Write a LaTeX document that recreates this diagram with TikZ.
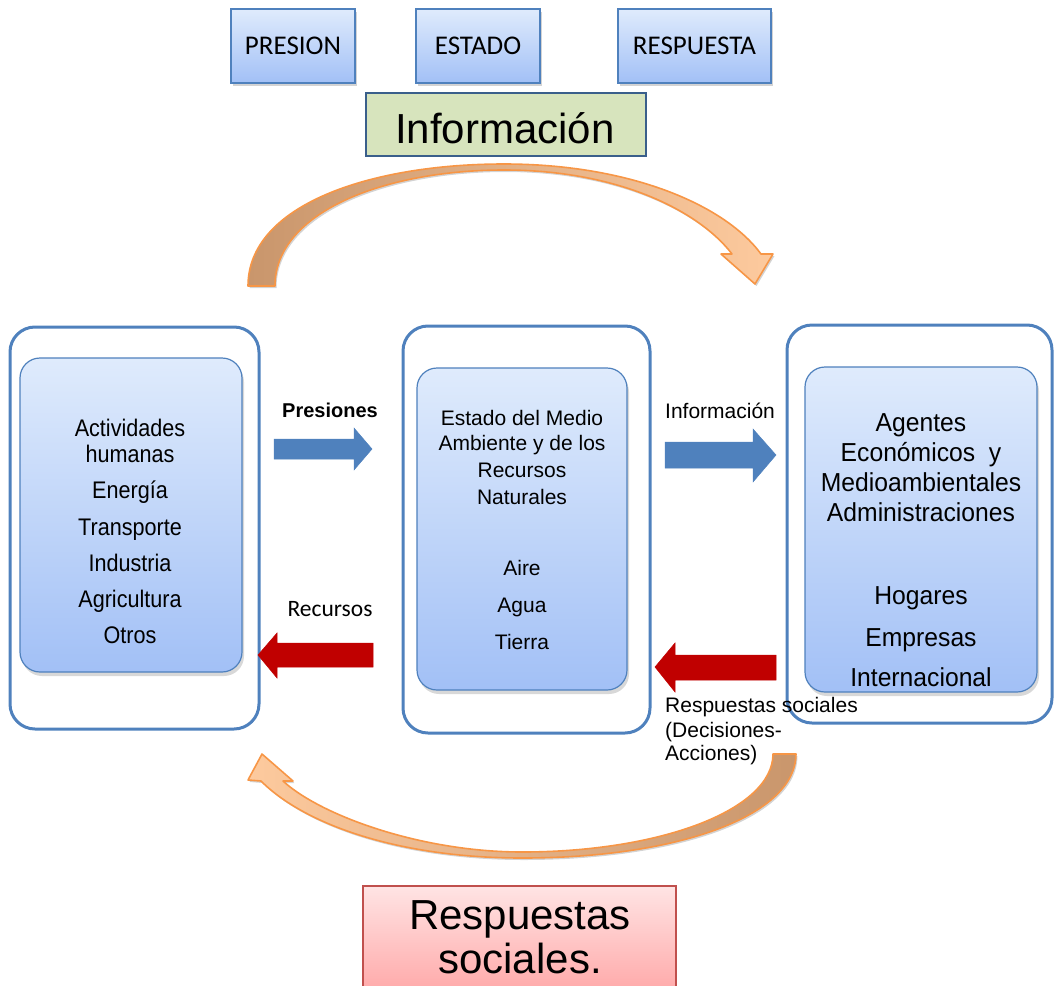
\documentclass[tikz,border=0pt]{standalone}
\usepackage{graphicx}
\usepackage{fontspec}
\setmainfont{Liberation Sans}
\newfontfamily\calfont{Carlito}
\usetikzlibrary{shadows}
\newcommand\lcond[1]{\scalebox{0.9}[1]{#1}}
\newcommand\rcond[1]{\scalebox{0.95}[1]{#1}}
\definecolor{bblue}{HTML}{4F81BD}
\definecolor{gtop}{HTML}{DFEBFC}
\definecolor{gbot}{HTML}{A2C0F6}
\definecolor{infofill}{HTML}{D7E4BD}
\definecolor{infoline}{HTML}{3A5F8B}
\definecolor{rtop}{HTML}{FFE4E4}
\definecolor{rbot}{HTML}{FF9C9C}
\definecolor{rline}{HTML}{C0504D}
\definecolor{redarrow}{HTML}{C00000}
\definecolor{arcline}{HTML}{F79646}
\definecolor{arcdark}{HTML}{C9966C}
\definecolor{arclight}{HTML}{FDCA9E}
\tikzset{
  topbox/.style={draw=bblue, line width=1.5pt, top color=gtop, bottom color=gbot,
    drop shadow={opacity=0.35, shadow xshift=2pt, shadow yshift=-3pt},
    font=\calfont\fontsize{27}{30}\selectfont, inner sep=0pt, minimum height=74pt},
  infobox/.style={draw=infoline, line width=1.5pt, fill=infofill, inner sep=0pt},
  redbox/.style={draw=rline, line width=1.5pt, top color=rtop, bottom color=rbot, inner sep=0pt},
  outerbox/.style={draw=bblue, line width=3pt, rounded corners=25pt, fill=white, inner sep=0pt},
  innerbox/.style={draw=bblue, line width=1.2pt, rounded corners=20pt, top color=gtop, bottom color=gbot,
    drop shadow={opacity=0.3, shadow xshift=2pt, shadow yshift=-4pt}, inner sep=0pt},
  ltxt/.style={anchor=base, inner sep=0pt, font=\fontsize{24}{28}\selectfont},
  mtxt/.style={anchor=base, inner sep=0pt, font=\fontsize{21}{26}\selectfont},
  rtxt/.style={anchor=base, inner sep=0pt, font=\fontsize{26}{30}\selectfont},
  lbl/.style={anchor=base west, inner sep=0pt, font=\fontsize{21}{24}\selectfont},
  bigtxt/.style={anchor=base, inner sep=0pt, font=\fontsize{42}{48}\selectfont},
  bluearrow/.style={fill=bblue, draw=bblue, line width=0.5pt},
  redarr/.style={fill=redarrow, draw=redarrow, line width=0.5pt},
  arcshape/.style={draw=arcline, line width=1.6pt, line join=round,
    drop shadow={opacity=0.35, shadow xshift=1.5pt, shadow yshift=-2pt}}
}
\begin{document}
\begin{tikzpicture}[x=1pt,y=-1pt]
\useasboundingbox (0,0) rectangle (1054,985);

% top boxes
\node[topbox, minimum width=124pt] (presion) at (293,46) {PRESION};
\node[topbox, minimum width=124pt] (estado) at (478,46) {ESTADO};
\node[topbox, minimum width=153pt] (respuesta) at (694.5,46) {RESPUESTA};
\node[infobox, minimum width=280pt, minimum height=63pt] (info) at (506,124.5) {};
\node[bigtxt] (infotxt) at (505,143) {Información};

% upper curved arrow
\path[arcshape, left color=arcdark, right color=arclight]
  (248,286) .. controls (248,205) and (370,164) .. (504,164)
  .. controls (630,164) and (725,205) .. (761,254)
  -- (773,254) -- (755,284) -- (721,254) -- (732,254)
  .. controls (700,212) and (620,170) .. (504,170)
  .. controls (385,170) and (275,212) .. (275,286) -- cycle;

% lower curved arrow
\path[arcshape, left color=arclight, right color=arcdark]
  (796,754) .. controls (796,815) and (680,858) .. (522,858)
  .. controls (400,858) and (305,825) .. (261,781)
  -- (248,780) -- (262,754) -- (293,781) -- (283,781)
  .. controls (320,815) and (420,852) .. (522,852)
  .. controls (660,852) and (773,810) .. (773,754) -- cycle;

% outer boxes
\node[outerbox, minimum width=249pt, minimum height=402pt] (lout) at (134.5,528) {};
\node[outerbox, minimum width=247pt, minimum height=407pt] (mout) at (526.5,529.5) {};
\node[outerbox, minimum width=265pt, minimum height=398pt] (rout) at (919.5,524) {};

% inner boxes
\node[innerbox, minimum width=222pt, minimum height=314pt] (lin) at (131,515) {};
\node[innerbox, minimum width=210pt, minimum height=322pt] (min) at (522,529) {};
\node[innerbox, minimum width=232pt, minimum height=325pt] (rin) at (921,529.5) {};

% left texts
\node[ltxt] (l1) at (130,436.5) {\lcond{Actividades}};
\node[ltxt] (l2) at (130,462.5) {\lcond{humanas}};
\node[ltxt] (l3) at (130,498) {\lcond{Energía}};
\node[ltxt] (l4) at (130,535) {\lcond{Transporte}};
\node[ltxt] (l5) at (130,571) {\lcond{Industria}};
\node[ltxt] (l6) at (130,607) {\lcond{Agricultura}};
\node[ltxt] (l7) at (130,643) {\lcond{Otros}};

% middle texts
\node[mtxt] (m1) at (522,425.5) {Estado del Medio};
\node[mtxt] (m2) at (522,450.5) {Ambiente y de los};
\node[mtxt] (m3) at (522,477.5) {Recursos};
\node[mtxt] (m4) at (522,504.5) {Naturales};
\node[mtxt] (m5) at (522,575.5) {Aire};
\node[mtxt] (m6) at (522,612.5) {Agua};
\node[mtxt] (m7) at (522,649.5) {Tierra};

% right texts
\node[rtxt] (r1) at (921,431) {\rcond{Agentes}};
\node[rtxt] (r2) at (921,461) {\rcond{Económicos\ \ y}};
\node[rtxt] (r3) at (921,491) {\rcond{Medioambientales}};
\node[rtxt] (r4) at (921,521) {\rcond{Administraciones}};
\node[rtxt] (r5) at (921,604) {\rcond{Hogares}};
\node[rtxt] (r6) at (921,646) {\rcond{Empresas}};
\node[rtxt] (r7) at (921,686) {\rcond{Internacional}};

% block arrows
\path[bluearrow] (274,439) -- (354,439) -- (354,428) -- (372,449) -- (354,470) -- (354,459) -- (274,459) -- cycle;
\path[bluearrow] (665,442) -- (753,442) -- (753,429) -- (776,455) -- (753,482) -- (753,468) -- (665,468) -- cycle;
\path[redarr] (373,643) -- (277,643) -- (277,633) -- (258,655) -- (277,678) -- (277,667) -- (373,667) -- cycle;
\path[redarr] (776,655) -- (675,655) -- (675,643) -- (655,667) -- (675,692) -- (675,680) -- (776,680) -- cycle;

% arrow labels
\node[anchor=base, inner sep=0pt, font=\bfseries\fontsize{20}{22}\selectfont] (presiones) at (330,417) {Presiones};
\node[lbl] (infolbl) at (665,418) {Información};
\node[anchor=base, inner sep=0pt, font=\calfont\fontsize{23.5}{26}\selectfont] (recursos) at (330,616) {Recursos};
\node[lbl] (rs1) at (665,712) {Respuestas sociales};
\node[lbl] (rs2) at (665,737) {(Decisiones-};
\node[lbl] (rs3) at (665,760) {Acciones)};

% bottom box
\node[redbox, minimum width=313pt, minimum height=130pt] (resp) at (519.5,951) {};
\node[bigtxt] (resp1) at (520,929) {Respuestas};
\node[bigtxt] (resp2) at (520,973) {sociales.};
\end{tikzpicture}
\end{document}
